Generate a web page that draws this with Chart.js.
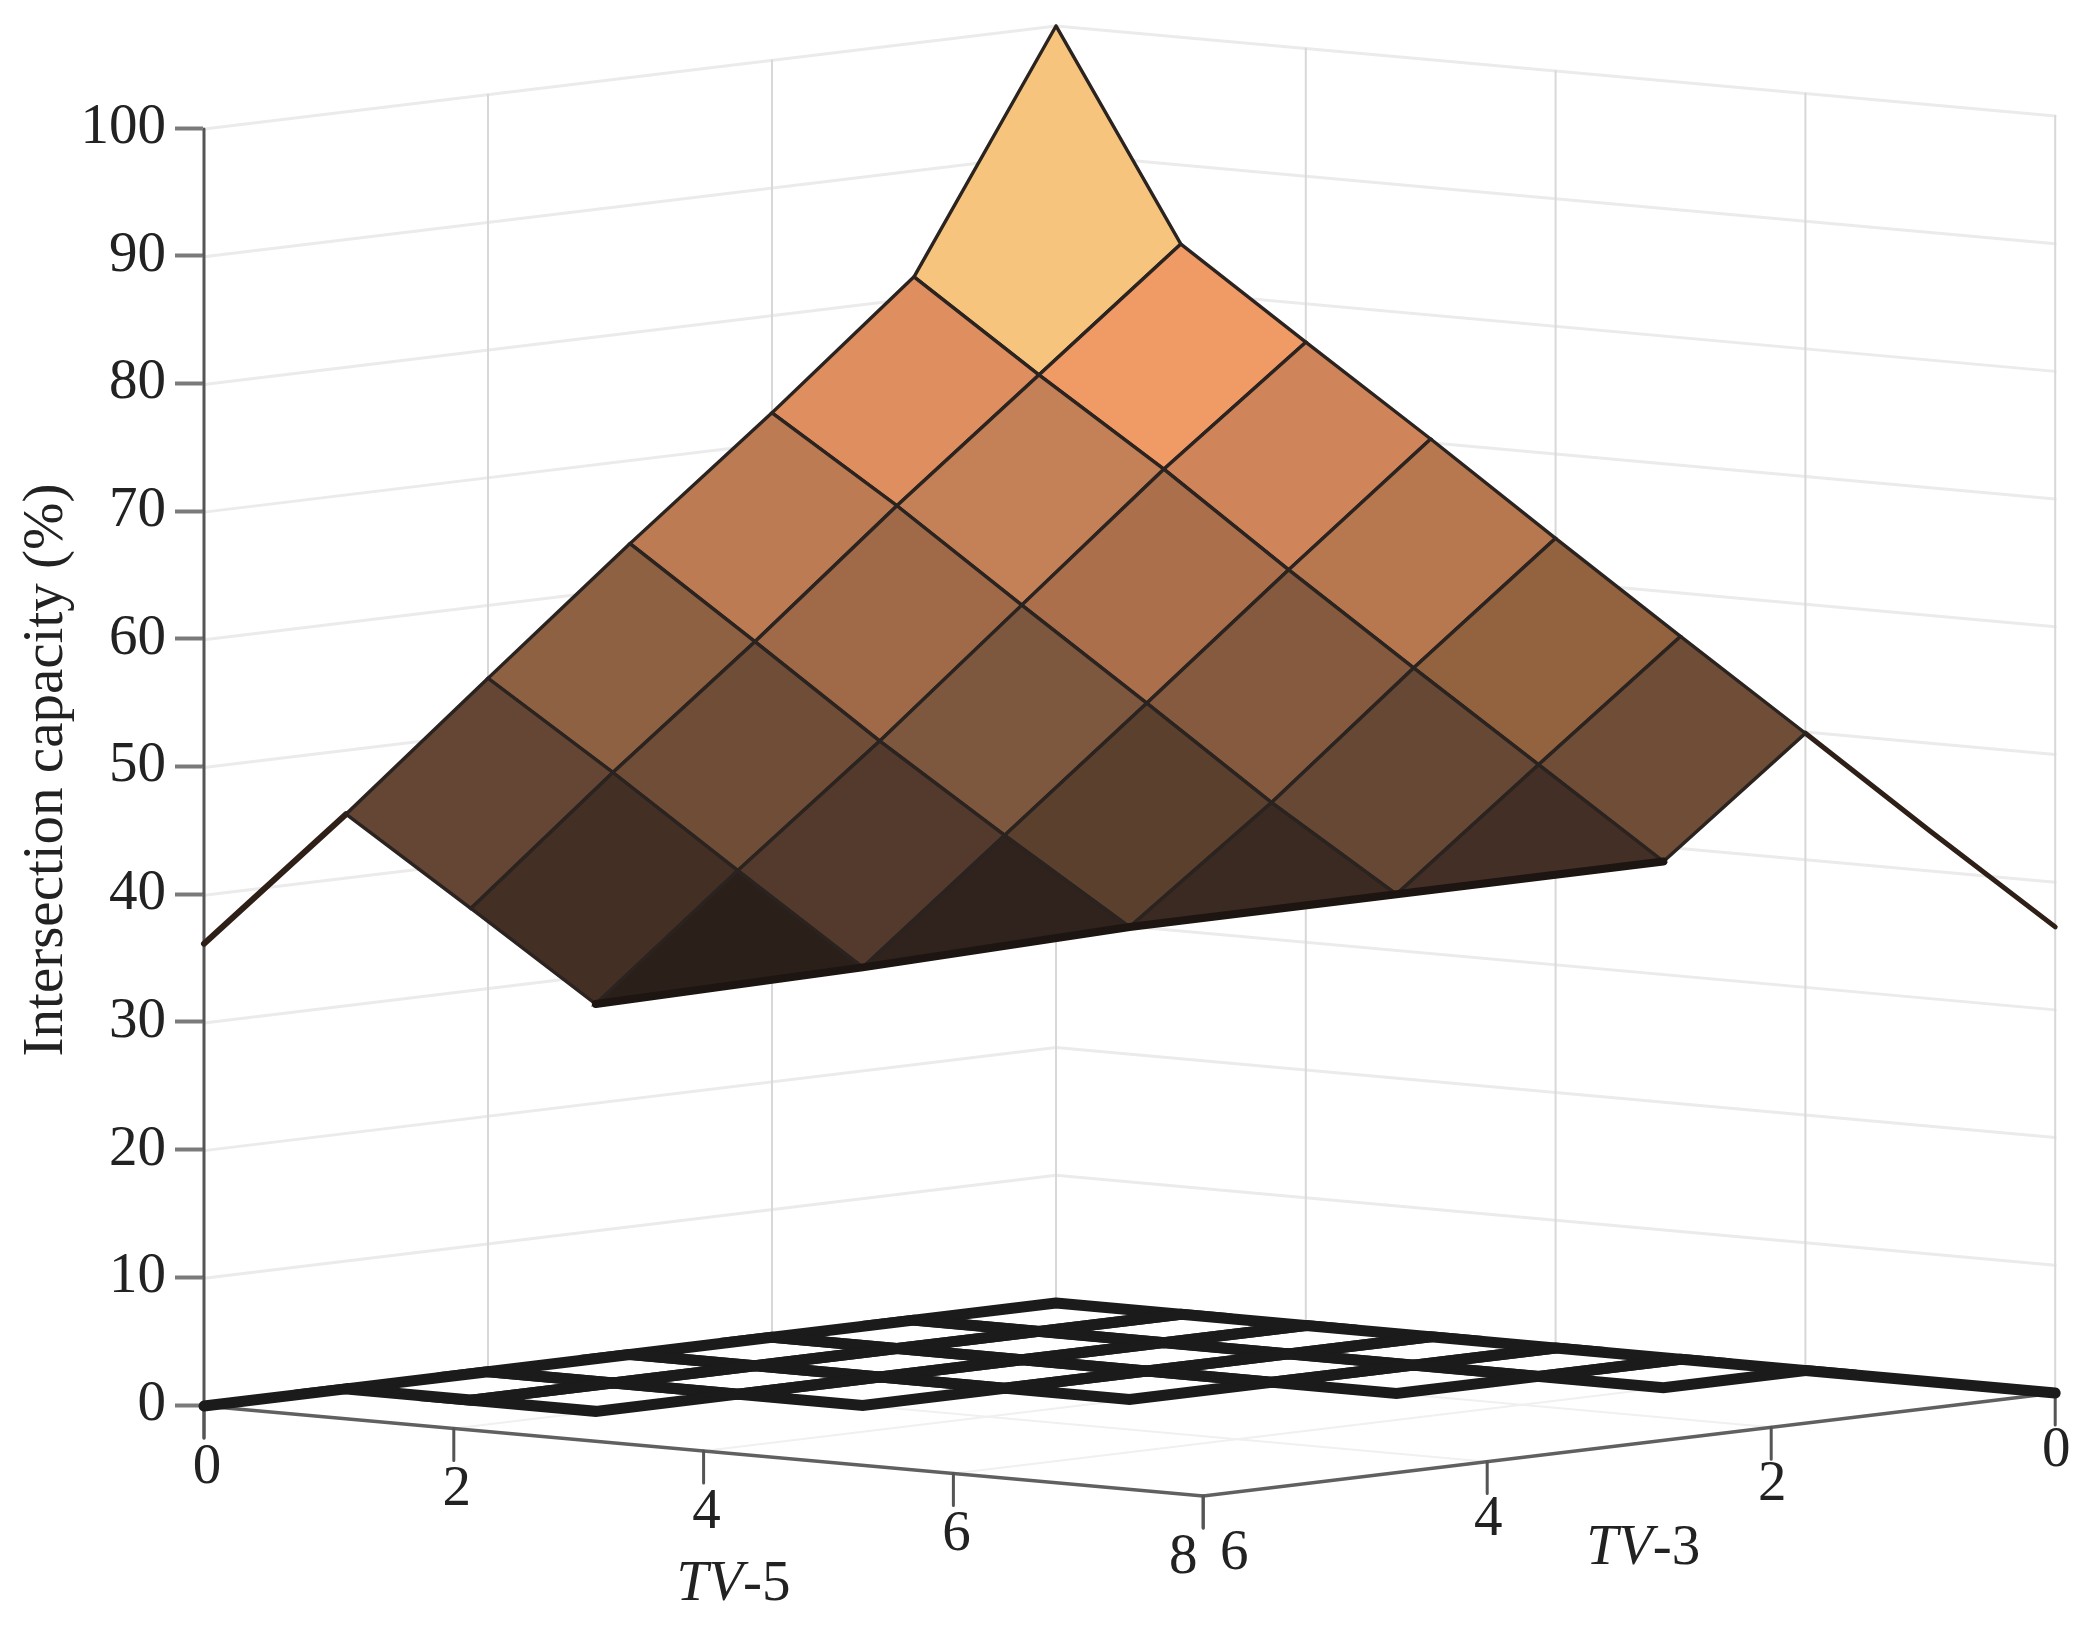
<!DOCTYPE html>
<html>
<head>
<meta charset="utf-8">
<title>Intersection capacity</title>
<style>
  body { margin: 0; background: #fff; }
  canvas { display: block; }
</style>
<script src="https://cdn.jsdelivr.net/npm/chart.js@4"></script>
</head>
<body>
<canvas id="surfaceChart" width="2083" height="1625"></canvas>
<script>
// values
const capacityTicks = [0, 10, 20, 30, 40, 50, 60, 70, 80, 90, 100];
const tv5Ticks = [0, 2, 4, 6, 8];
const tv3Ticks = [0, 2, 4, 6];
const yTitle = "Intersection capacity (%)";

// one row per TV-5 value (0..8), one column per TV-3 value (0..6)
const capacity0 = [100, 81.7, 72.4, 63.5, 54.3, 45, 36.2];
const capacity1 = [83.8, 74.9, 66, 56.7, 47.8, 38.5, null];
const capacity2 = [77, 68.4, 59.1, 49.8, 41, 31.9, null];
const capacity3 = [70.3, 61.4, 52.3, 43.3, 34.3, null, null];
const capacity4 = [63.4, 54.6, 45.4, 37, null, null, null];
const capacity5 = [56.6, 47.9, 39.1, null, null, null, null];
const capacity6 = [49.9, 41.2, null, null, null, null, null];
const capacity7 = [43.1, null, null, null, null, null, null];
const capacity8 = [36.5, null, null, null, null, null, null];
const capacity = [capacity0, capacity1, capacity2, capacity3, capacity4, capacity5, capacity6, capacity7, capacity8];

// facet colours, same layout as the rows above (null = no facet)
const facetColors = [
  ["#f7c47d", "#df8f5f", "#bc7b52", "#8f6143", "#654634", null],
  ["#f09a66", "#c48056", "#a06a48", "#704d37", "#442f25", null],
  ["#cf8559", "#ac6f4c", "#7d573e", "#533a2c", "#2b1f1a", null],
  ["#b7774f", "#865a3f", "#5c402e", "#30221c", null, null],
  ["#93623f", "#664835", "#3b2a21", null, null, null],
  ["#704d37", "#432f25", null, null, null, null],
];

// oblique view of the box: x axis is in view units, y axis is capacity itself
const view = {
  backX: 1056, tv5X: 124.9, tv3X: -142,
  backLift: 7.99, tv5Drop: 0.881, tv3Drop: 1.345,
  pxPerPct: 12.77, tickDrop: 2.5,
};
const project = (tv5, tv3, z = 0) => ({
  x: view.backX + view.tv5X * tv5 + view.tv3X * tv3,
  y: z + view.backLift - view.tv5Drop * tv5 - view.tv3Drop * tv3,
});

const datasets = [];
const addLine = (points, color, width, extra = {}) => {
  datasets.push({
    data: points,
    showLine: true,
    borderColor: color,
    borderWidth: width,
    borderJoinStyle: "miter",
    borderCapStyle: "round",
    pointRadius: 0,
    tension: 0,
    clip: false,
    fill: false,
    ...extra,
  });
};

// walls and faint floor grid
tv5Ticks.filter((t) => t > 0 && t < 8).forEach((t) => addLine([project(t, 0), project(t, 6)], "#f0f0f0", 2));
tv3Ticks.filter((t) => t > 0 && t < 6).forEach((t) => addLine([project(0, t), project(8, t)], "#f0f0f0", 2));
capacityTicks.forEach((z) => {
  addLine([project(0, 6, z), project(0, 0, z), project(8, 0, z)], "#ebebeb", 3);
});
tv3Ticks.forEach((t) => addLine([project(0, t), project(0, t, 100)], "#d8d8d8", 2));
tv5Ticks.forEach((t) => addLine([project(t, 0), project(t, 0, 100)], "#d8d8d8", 2));

// floor axes and their ticks
addLine([project(0, 6), project(8, 6), project(8, 0)], "#606060", 3.5);
addLine([project(0, 6, 100), project(0, 6, -view.tickDrop)], "#555", 3);
tv5Ticks.forEach((t) => {
  const p = project(t, 6);
  addLine([p, { x: p.x, y: p.y - view.tickDrop }], "#555", 3);
});
tv3Ticks.forEach((t) => {
  const p = project(8, t);
  addLine([p, { x: p.x, y: p.y - view.tickDrop }], "#555", 3);
});

// contour on the floor, only where the cell is complete
const complete = (i, j) =>
  [capacity[i][j], capacity[i + 1][j], capacity[i][j + 1], capacity[i + 1][j + 1]].every((v) => v !== null);
addLine([project(0, 5), project(0, 6)], "#1b1b1b", 11);
addLine([project(6, 0), project(8, 0)], "#1b1b1b", 11);
facetColors.forEach((row, i) => {
  row.forEach((color, j) => {
    if (color && complete(i, j)) {
      const c = [project(i, j), project(i + 1, j), project(i + 1, j + 1), project(i, j + 1), project(i, j)];
      addLine(c, "#1b1b1b", 11);
    }
  });
});

// surface strips that run out to the two low corners
addLine([project(0, 5, capacity[0][5]), project(0, 6, capacity[0][6])], "#2e1f17", 6);
addLine([project(6, 0, capacity[6][0]), project(7, 0, capacity[7][0]), project(8, 0, capacity[8][0])], "#2e1f17", 5);

// surface facets
facetColors.forEach((row, i) => {
  row.forEach((color, j) => {
    if (!color) return;
    const corners = [[i, j], [i + 1, j], [i + 1, j + 1], [i, j + 1]]
      .filter(([a, b]) => capacity[a][b] !== null)
      .map(([a, b]) => project(a, b, capacity[a][b]));
    corners.push(corners[0]);
    addLine(corners, "#2a2320", 3.4, { fill: "shape", backgroundColor: color });
  });
});

// heavy fold along the low front of the surface
const fold = [[2, 5], [3, 4], [4, 3], [5, 2], [6, 1]].map(([a, b]) => project(a, b, capacity[a][b]));
addLine(fold, "#1d1512", 8);

const labelSize = 57;
const labelFont = `${labelSize}px "Liberation Serif"`;
const italicFont = `italic ${labelSize}px "Liberation Serif"`;
const labelColor = "#222";

// tick labels and names of the two floor axes
const floorLabels = {
  id: "floorLabels",
  afterDraw(chart) {
    const { ctx, scales } = chart;
    const px = (p) => ({ x: scales.x.getPixelForValue(p.x), y: scales.y.getPixelForValue(p.y) });
    ctx.save();
    ctx.font = labelFont;
    ctx.fillStyle = labelColor;
    ctx.textAlign = "center";
    ctx.textBaseline = "middle";
    tv5Ticks.forEach((t) => {
      const p = px(project(t, 6, -view.tickDrop));
      ctx.fillText(String(t), p.x + (t === 8 ? -20 : 3), p.y + 30);
    });
    tv3Ticks.forEach((t) => {
      const p = px(project(8, t, -view.tickDrop));
      ctx.fillText(String(t), p.x + (t === 6 ? 31 : 1), p.y + 26);
    });
    const axisName = (name, num, p) => {
      ctx.textAlign = "left";
      ctx.font = italicFont;
      const w1 = ctx.measureText(name).width;
      ctx.font = labelFont;
      const w2 = ctx.measureText(num).width;
      const left = p.x - (w1 + w2) / 2;
      ctx.font = italicFont;
      ctx.fillText(name, left, p.y);
      ctx.font = labelFont;
      ctx.fillText(num, left + w1, p.y);
    };
    const a = px(project(4, 6));
    axisName("TV", "-5", { x: a.x + 30, y: a.y + 134 });
    const b = px(project(8, 3));
    axisName("TV", "-3", { x: b.x + 14, y: b.y + 105 });
    ctx.restore();
  },
};

new Chart(document.getElementById("surfaceChart").getContext("2d"), {
  type: "scatter",
  data: { datasets: datasets.reverse() }, // first dataset is painted last
  plugins: [floorLabels],
  options: {
    responsive: false,
    animation: false,
    layout: { padding: { top: 0, right: 29, bottom: 85, left: 0 } },
    plugins: { legend: { display: false }, tooltip: { enabled: false } },
    scales: {
      x: { type: "linear", display: false, min: 203, max: 2054 },
      y: {
        type: "linear",
        position: "left",
        min: (1405 - 1540) / view.pxPerPct,
        max: 1405 / view.pxPerPct,
        afterBuildTicks: (scale) => {
          scale.ticks = capacityTicks.map((value) => ({ value }));
        },
        afterFit: (scale) => {
          scale.width = 203;
          scale.paddingTop = 0;
          scale.paddingBottom = 0;
        },
        border: { display: false },
        grid: { drawOnChartArea: false, drawTicks: true, tickLength: 28, tickWidth: 4, tickColor: "#7a7a7a" },
        ticks: {
          autoSkip: false,
          padding: 9,
          color: labelColor,
          font: { family: "Liberation Serif", size: labelSize },
          callback: (v) => String(v),
        },
        title: {
          display: true,
          text: yTitle,
          color: labelColor,
          font: { family: "Liberation Serif", size: labelSize },
          padding: { top: 13, bottom: 0 },
        },
      },
    },
  },
});
</script>
</body>
</html>
